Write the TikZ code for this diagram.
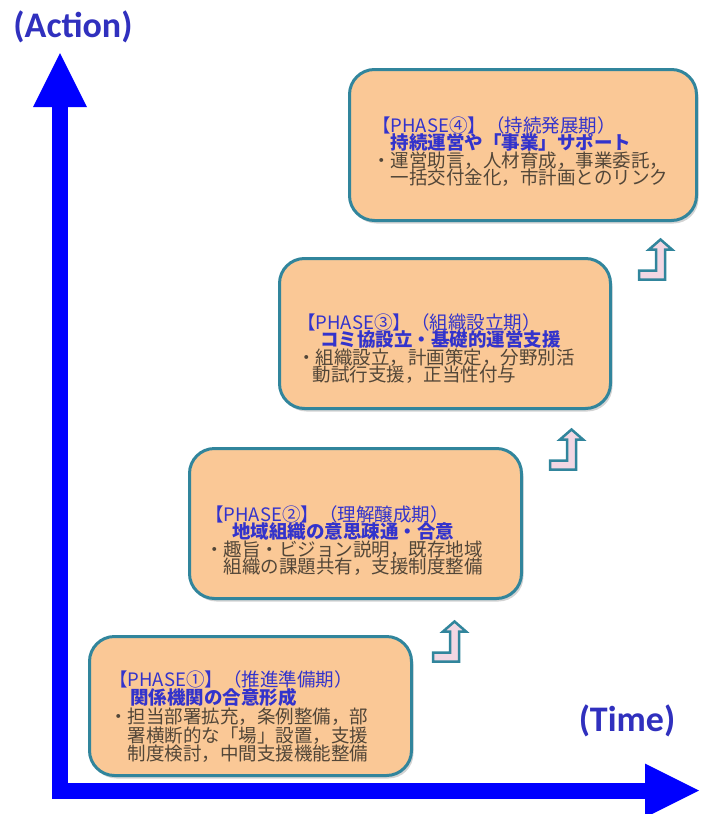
\documentclass[tikz,border=0pt]{standalone}
\usepackage{fontspec}
\usetikzlibrary{arrows.meta,shadows}
\newfontfamily\jpfont{Noto Sans CJK JP}
\newfontfamily\lblfont{Carlito}
\definecolor{axisblue}{RGB}{0,0,255}
\definecolor{lblblue}{RGB}{48,48,190}
\definecolor{phasefill}{RGB}{250,200,150}
\definecolor{phaseline}{RGB}{49,133,156}
\definecolor{headblue}{RGB}{51,51,204}
\definecolor{bodytext}{RGB}{82,70,56}
\definecolor{turnfill}{RGB}{242,215,227}
\newcommand{\hd}[1]      {{\color{headblue}#1}}
\newcommand{\subhd}[1]   {{\color{headblue}\bfseries #1}}
\newcommand{\ind}[1]     {\hspace*{#1em}}

\tikzset{
  bighead/.tip={Triangle[width=54pt,length=54pt,line width=0pt]},
  turnup/.pic={
    \draw[turnarrow] (0,0) -- (26,0) -- (26,-30) -- (33,-30) -- (21.5,-40)
      -- (10,-30) -- (17,-30) -- (17,-9) -- (0,-9) -- cycle;
  }
}

\begin{document}
\begin{tikzpicture}[x=1pt,y=-1pt,
  phase/.style={draw=phaseline,line width=3pt,fill=phasefill,rounded corners=25pt,
    drop shadow={shadow xshift=2pt,shadow yshift=-3pt,opacity=0.35}},
  phtxt/.style={anchor=north west,inner sep=0pt,align=left,text=bodytext,
    font={\jpfont\fontsize{18.5}{17.5}\selectfont\lineskiplimit=-20pt}},
  axisline/.style={draw=axisblue,line width=16pt,line join=miter,bighead-bighead},
  lbl/.style={font=\lblfont\bfseries\fontsize{36}{40}\selectfont,text=lblblue,inner sep=0pt},
  turnarrow/.style={draw=phaseline,line width=2.5pt,fill=turnfill,line join=miter}]
  \useasboundingbox (0,0) rectangle (707,814);

  \coordinate (o) at (60,790.5);
  \coordinate (ytip) at (60,53);
  \coordinate (xtip) at (699,790.5);
  \draw[axisline] (xtip) -- (o) -- (ytip);
  \node[lbl] (action) at (73,27) {(Action)};
  \node[lbl] (time) at (627,721) {(Time)};

  \node[phase,minimum width=322pt,minimum height=139pt] (b1) at (250.5,706) {};
  \node[phase,minimum width=332pt,minimum height=150pt] (b2) at (355.5,523.5) {};
  \node[phase,minimum width=331pt,minimum height=150pt] (b3) at (445,333.5) {};
  \node[phase,minimum width=347pt,minimum height=151pt] (b4) at (523,145) {};

  \node[phtxt,font={\jpfont\fontsize{18.5}{18.7}\selectfont\lineskiplimit=-20pt}] (t1) at (109,670)
    {\hd{【PHASE①】（推進準備期）}\\
     \ind{1.15}\subhd{関係機関の合意形成}\\
     ・担当部署拡充，条例整備，部\\
     \ind{1}署横断的な「場」設置，支援\\
     \ind{1}制度検討，中間支援機能整備};
  \node[phtxt] (t2) at (205,505)
    {\hd{【PHASE②】（理解醸成期）}\\
     \ind{1.45}\subhd{地域組織の意思疎通・合意}\\
     ・趣旨・ビジョン説明，既存地域\\
     \ind{1}組織の課題共有，支援制度整備};
  \node[phtxt] (t3) at (297,313)
    {\hd{【PHASE③】（組織設立期）}\\
     \ind{1.25}\subhd{コミ協設立・基礎的運営支援}\\
     ・組織設立，計画策定，分野別活\\
     \ind{0.85}動試行支援，正当性付与};
  \node[phtxt] (t4) at (372,116)
    {\hd{【PHASE④】（持続発展期）}\\
     \ind{1}\subhd{持続運営や「事業」サポート}\\
     ・運営助言，人材育成，事業委託，\\
     \ind{1}一括交付金化，市計画とのリンク};

  \pic at (433,661.5) {turnup};
  \pic at (550,469.5) {turnup};
  \pic at (639,279.5) {turnup};
\end{tikzpicture}
\end{document}
